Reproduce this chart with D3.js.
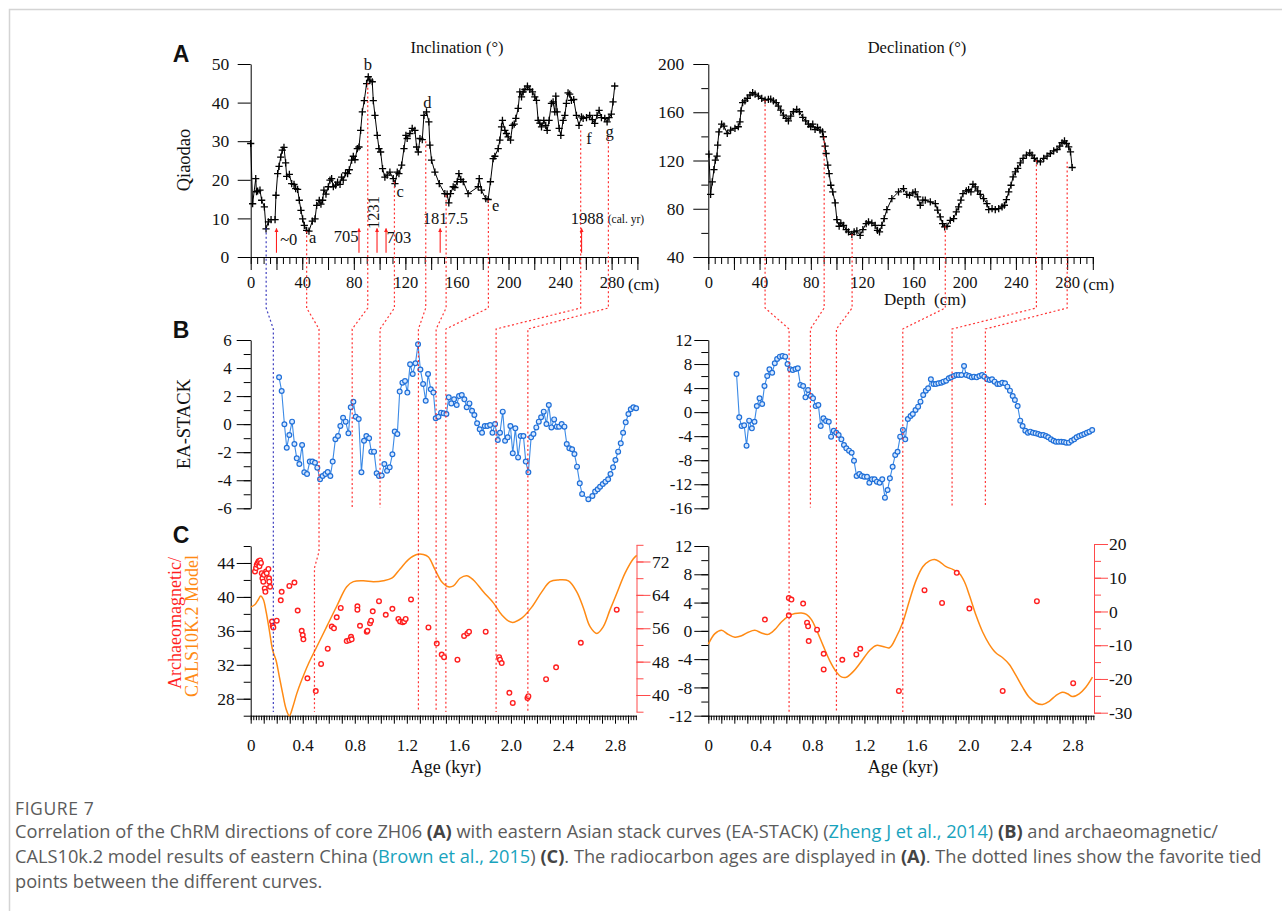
<!DOCTYPE html>
<html><head><meta charset="utf-8">
<script src="https://cdn.jsdelivr.net/npm/d3@7"></script>
<style>body{margin:0;background:#fff}svg{display:block}</style>
</head><body>
<svg id="c" width="1282" height="911"></svg>
<script>
// ---------------- DATA ----------------
const incDepth = [0,1.5,3.9,4.5,5.4,7.2,8.5,10.6,11.9,13.7,15.8,18.9,19.6,20.9,22,23.3,24.5,25.8,27.1,27.9,30,31.8,33.6,34.9,36.4,37.7,39,40.3,41.6,43.4,45.2,47.8,49.9,51.2,53.2,54.5,55.8,56.8,58.4,60.2,61.5,62.8,64.1,65.9,67.4,69.3,70.5,71.8,73.6,75.2,76.5,78.3,79.6,80.9,82.7,84,85.3,86.6,88.1,89.9,91.2,92.5,94.3,95.1,96.4,98.2,99.5,100.8,102.3,104.1,105.9,108,110.6,111.9,113.7,115,117.1,118.9,120.4,121.4,123.5,125.3,127.4,128.7,130,131.3,133.1,134.4,136.4,138.2,139,140.3,142.9,146.3,150.6,152.4,153.7,155,157.1,158.4,160.2,161.5,163,164.9,168.7,176.5,177.3,179,182.4,184.2,186,188.1,189.4,192,193.3,194.6,195.3,197.2,198.4,199.7,201.6,203.1,204.4,205.7,207.5,208.8,210.1,211.4,212.7,214.7,216.5,218.6,220.4,221.7,223,224.3,225.6,227.4,228.9,230,231.5,233.3,234.6,235.9,236.7,237.7,239.3,240.6,242.4,243.7,244.9,246.2,247.5,248.8,250.6,252.7,254.7,256.6,257.9,260.5,263,265.1,266.9,268.7,270.3,272.1,274.7,276.5,278,279.8,281.1,282.4];
const incVal = [29.4,13.8,20.3,16.9,17.1,17.3,14.7,13.0,7.3,9.1,9.7,9.7,16,21.6,23.5,25.9,27.7,28.4,24.4,20.9,21.4,19.0,18.8,17.7,17.5,14.7,12.1,9.9,8.2,6.9,6.7,9.3,9.9,13.4,14.7,13.7,14.7,17.3,16.3,18.2,19.9,20.3,18.2,18.6,19.4,18.8,20.7,19.9,21.8,21.6,22.6,25.1,26.1,25.2,28.1,28.5,32.8,37.6,40.5,44.9,46.7,45.8,45.4,40.5,36.7,31.5,28.1,27.2,22.9,20.7,21.2,22,20.3,19.0,22,21.6,23.8,28.1,31.5,30.7,32,33.3,32.8,28.5,27.2,30.7,30.4,36.7,37.6,35,29,25.1,22,19,16.4,16.3,14,16.4,18.2,18,19.5,21.6,20.1,19.5,16.4,18.2,20.3,17.3,15.1,14.9,19.5,25.5,26.1,28.1,30.3,33.7,35.4,32.8,32,31.1,30.3,34.1,34.4,35.9,38.5,42.8,41.5,42.8,43.4,44.3,43.4,42.8,41.5,40.6,35.4,34.7,33.7,35.4,34.1,32.8,35.4,39.8,40.2,37.6,41.7,37.6,33.3,31.5,35.4,36.7,39.8,42.5,42.2,40.6,40.8,36.7,34.1,36.3,35.9,36.1,36.7,35.6,34.6,36.7,38,36.1,35.9,35,36.1,37,40.2,44.3];

const decDepth = [0.5,1.8,3.1,4.4,5.5,6.8,7.3,8.3,10.4,12.2,14.8,17.4,20.8,23.4,24.7,25.5,26.8,28.6,30.5,32.6,34.6,36.5,39.1,41.7,44.3,46.9,48.7,50.8,52.9,54.7,56.5,58.6,60.7,62.5,64.3,66.4,69,71.1,73.7,76,78.1,79.9,81.5,83.3,85.2,87.2,89.1,89.8,91.1,91.9,93.2,94.3,95.6,97.1,99,100.3,102.1,103.4,105.5,107.6,109.4,112,113.8,115.9,118.5,120.6,123.2,125,127.6,130.2,132,133.6,135.4,137.2,139.3,143.2,148.4,152.3,154.9,157,159.6,161.5,163.3,165.4,167.4,169.3,173.2,177.1,178.9,181,182.8,184.4,186.2,188.8,191.4,193.5,195.3,197.1,198.7,201.3,203.1,204.9,206.5,208.3,210.2,212.2,214.8,217.4,218.8,221.4,223.9,226.6,229.2,231,232.6,234.4,236.2,237.8,239.6,241.4,243.5,245.6,248.2,250.8,252.6,254.4,256.5,259.1,261.7,264.3,266.9,269.5,272.1,274.2,276,277.9,279.4,281.2,282.6,283.9];
const decVal = [125.3,92,102.3,112.5,120.3,123.6,132.7,143.8,150.2,148.5,142.4,145.2,146.6,148,152.1,161.2,167.9,169.5,171.5,174.3,176.2,175.1,173.4,171.5,170.1,170.7,170.9,169.5,167.9,165.1,161.8,157.6,154.9,152.9,156.8,160.4,162.4,160.4,155.7,152.9,150.2,148,150.2,145.7,147.4,145.2,143.8,139.7,131.9,125.8,116.1,109.2,99.5,94,84.8,71,65.5,68.2,66.3,62.7,60.8,58.8,60.8,61.6,58,62.7,67.7,69.1,68.2,66.3,62.1,60.8,66.3,71.8,79.3,88.4,94,96.7,92,91.2,93.1,94,89.8,82.9,87.1,87.1,85.7,84.3,78.8,73.2,67.7,64.9,65.5,70.4,71.8,77.4,81.5,87.1,92.6,94.8,95.9,94,100.3,98.1,94.8,92,88.4,84.3,79.3,80.1,79.3,80.1,81.5,82.9,87.6,94,99.5,106.4,110.6,113.4,118.1,121.7,124.4,126.4,124.4,121.7,119.7,118.9,121.7,123.6,125.8,128,129.1,131.9,134.7,136.3,134.1,131.3,127.2,114.2];

const stackIncAge = [0.218,0.238,0.259,0.277,0.297,0.318,0.336,0.354,0.374,0.395,0.412,0.433,0.454,0.474,0.494,0.512,0.533,0.553,0.574,0.592,0.612,0.63,0.651,0.671,0.689,0.71,0.73,0.751,0.769,0.789,0.807,0.83,0.851,0.871,0.889,0.91,0.927,0.948,0.968,0.986,1.007,1.027,1.048,1.068,1.089,1.107,1.127,1.145,1.166,1.186,1.204,1.225,1.245,1.266,1.286,1.304,1.325,1.345,1.363,1.384,1.404,1.422,1.443,1.463,1.483,1.504,1.522,1.542,1.563,1.583,1.601,1.622,1.642,1.66,1.681,1.701,1.719,1.74,1.76,1.778,1.799,1.819,1.84,1.858,1.878,1.899,1.916,1.937,1.955,1.975,1.996,2.014,2.034,2.055,2.075,2.096,2.114,2.134,2.155,2.173,2.195,2.214,2.232,2.252,2.273,2.291,2.311,2.332,2.352,2.37,2.39,2.411,2.429,2.449,2.47,2.488,2.508,2.529,2.547,2.595,2.626,2.647,2.667,2.685,2.706,2.726,2.747,2.765,2.785,2.803,2.824,2.844,2.862,2.882,2.903,2.921,2.941,2.962];
const stackIncVal = [3.34,2.36,-0.01,-1.68,-0.77,0.18,-1.41,-2.44,-2.84,-1.49,-3.43,-3.55,-2.67,-2.67,-2.75,-3.1,-3.93,-3.7,-3.55,-3.41,-3.7,-2.67,-1.08,-0.84,-0.13,0.46,0.18,-0.65,1.2,1.6,0.53,0.37,-3.43,-1.18,-0.84,-1.0,-1.96,-1.96,-3.5,-3.7,-3.67,-2.84,-3.32,-3.08,-2.15,-0.53,-0.7,2.32,2.96,3.08,2.25,4.27,3.58,4.34,5.7,3.9,2.86,1.67,3.58,2.48,2.25,0.42,0.53,0.82,0.77,0.72,1.91,1.48,1.77,1.37,2.0,2.08,1.77,1.2,1.48,0.96,0.65,0.06,-0.37,-0.61,-0.13,-0.13,-0.06,-0.61,0.01,-1.13,-0.61,0.89,-1.18,-0.94,-0.13,-2.08,-0.3,-2.37,-0.84,-0.84,-2.67,-3.43,-0.94,-0.7,-0.23,0.18,0.49,0.89,0.01,1.37,-0.23,0.34,-0.18,-0.18,0.01,-0.18,-1.41,-1.72,-1.79,-2.13,-3.03,-4.22,-4.98,-5.36,-5.12,-4.81,-4.65,-4.46,-4.27,-4.1,-3.93,-3.55,-3.08,-2.56,-1.96,-1.37,-0.61,0.13,0.72,1.06,1.2,1.13];

const stackDecAge = [0.217,0.238,0.256,0.276,0.294,0.314,0.335,0.355,0.373,0.394,0.414,0.432,0.453,0.47,0.491,0.511,0.529,0.55,0.57,0.591,0.609,0.629,0.649,0.67,0.688,0.708,0.729,0.747,0.767,0.788,0.805,0.826,0.846,0.864,0.885,0.905,0.926,0.944,0.964,0.984,1.002,1.023,1.043,1.061,1.082,1.102,1.12,1.14,1.161,1.179,1.199,1.22,1.238,1.258,1.278,1.296,1.317,1.337,1.358,1.378,1.396,1.417,1.437,1.455,1.475,1.496,1.514,1.534,1.555,1.572,1.593,1.613,1.631,1.652,1.672,1.69,1.711,1.731,1.749,1.769,1.79,1.808,1.828,1.849,1.867,1.887,1.907,1.925,1.946,1.966,1.984,2.005,2.025,2.043,2.063,2.084,2.104,2.122,2.143,2.163,2.181,2.201,2.222,2.24,2.26,2.281,2.299,2.319,2.34,2.357,2.378,2.398,2.416,2.437,2.457,2.475,2.496,2.516,2.536,2.554,2.575,2.595,2.613,2.634,2.654,2.672,2.692,2.713,2.733,2.751,2.772,2.792,2.813,2.831,2.851,2.871,2.89,2.91,2.93,2.951];
const stackDecVal = [6.34,-0.87,-2.31,-2.2,-5.58,-1.42,-2.7,-1.59,1.02,2.29,1.35,4.35,6.01,7.12,6.56,8.12,8.84,9.23,9.34,9.23,8.0,7.12,7.0,7.17,7.29,4.51,4.35,2.46,3.68,2.68,2.29,1.02,1.18,-2.31,-1.03,-1.48,-1.59,-4.08,-3.09,-3.42,-3.81,-4.53,-5.47,-6.03,-6.41,-6.75,-8.08,-10.63,-10.3,-10.63,-10.74,-10.74,-11.74,-11.18,-11.18,-11.57,-11.74,-11.18,-14.23,-12.96,-11.02,-9.08,-7.13,-6.58,-4.08,-2.98,-4.53,-1.14,-0.65,-0.31,0.35,0.91,1.74,2.85,3.57,3.96,5.46,4.68,4.68,4.79,4.9,5.07,5.23,5.62,5.79,6.01,6.18,6.18,6.18,7.67,6.18,6.01,5.79,5.9,5.79,6.01,6.18,5.9,5.46,5.34,5.46,5.07,4.68,4.68,4.9,4.79,4.24,3.57,2.68,2.02,1.02,-1.42,-2.31,-3.09,-3.42,-3.25,-3.42,-3.53,-3.64,-3.81,-3.81,-3.97,-4.2,-4.53,-4.75,-4.92,-4.92,-4.92,-4.97,-5.08,-5.08,-4.75,-4.53,-4.2,-3.97,-3.81,-3.64,-3.42,-3.25,-2.98];

const calsIncAge = [0,0.033,0.059,0.077,0.097,0.118,0.143,0.169,0.195,0.22,0.246,0.272,0.297,0.323,0.354,0.392,0.443,0.507,0.584,0.661,0.738,0.789,0.866,0.943,1.02,1.084,1.148,1.212,1.276,1.327,1.366,1.417,1.468,1.519,1.558,1.609,1.66,1.711,1.788,1.865,1.929,2.006,2.083,2.16,2.237,2.301,2.365,2.442,2.506,2.557,2.608,2.66,2.71,2.762,2.813,2.877,2.941,2.967];
const calsIncVal = [38.8,39.1,39.7,40.1,39.7,38.3,36.1,33.7,32.5,30.6,28.6,26.8,26.0,27,28.6,30.2,32.1,34.1,36.5,38.9,41.2,41.8,41.9,41.8,41.9,42.2,43.3,44.4,45,45,44.7,43.2,41.8,41.2,41.3,42.2,42.5,42.0,40.6,39.3,37.9,37,37.5,38.8,40.6,41.8,42,41.9,40.6,38.7,36.5,35.7,36.5,38.5,40.4,42.8,44.5,44.9];
const archIncAge = [0.033,0.041,0.046,0.054,0.061,0.067,0.072,0.079,0.085,0.09,0.097,0.102,0.108,0.113,0.118,0.123,0.136,0.141,0.143,0.149,0.164,0.169,0.174,0.2,0.231,0.238,0.297,0.336,0.361,0.392,0.4,0.405,0.436,0.5,0.541,0.592,0.623,0.64,0.661,0.692,0.738,0.758,0.771,0.776,0.82,0.82,0.84,0.892,0.897,0.917,0.925,0.938,0.986,1.038,1.089,1.135,1.148,1.168,1.179,1.191,1.232,1.366,1.43,1.468,1.486,1.589,1.64,1.665,1.678,1.806,1.909,1.916,1.929,1.988,2.014,2.127,2.134,2.27,2.347,2.537,2.813];
const archIncVal = [43.0,43.4,43.8,44.0,44.2,43.6,44.3,44.0,42.8,42.2,41.8,42.6,41.0,40.6,43.0,42.8,43.3,42.2,41.8,41.2,37.1,36.6,36.4,37.2,39.6,40.6,41.3,41.7,38.4,36,35.5,35.0,30.4,28.9,32.1,33.9,36.5,36.3,37.6,38.7,34.8,34.9,35.3,35.0,38.9,38.5,36.6,35.9,36.0,36.9,37.2,38.3,39.5,37.9,38.6,37.4,37.1,37,37.1,37.4,39.7,36.4,34.5,33.2,32.9,32.6,35.4,35.7,35.9,35.9,32.9,32.6,32.2,28.7,27.5,28.1,28.3,30.3,31.7,34.6,38.5];

const calsDecAge = [0,0.051,0.102,0.153,0.205,0.256,0.307,0.358,0.409,0.46,0.511,0.562,0.614,0.665,0.716,0.754,0.793,0.831,0.882,0.933,0.984,1.023,1.061,1.112,1.163,1.24,1.291,1.342,1.393,1.445,1.496,1.547,1.598,1.649,1.7,1.739,1.777,1.828,1.879,1.93,1.969,2.007,2.058,2.109,2.16,2.212,2.263,2.314,2.365,2.416,2.467,2.519,2.57,2.621,2.672,2.723,2.762,2.8,2.851,2.902,2.953];
const calsDecVal = [-1.9,-0.4,0.07,-0.5,-0.9,-0.7,-0.2,0.07,-0.3,-0.5,0.17,1.26,2.06,2.44,2.53,2.34,1.59,0.17,-2.06,-4.2,-5.8,-6.5,-6.55,-5.8,-4.66,-2.77,-2.06,-2.2,-2.39,-0.87,1.26,4.33,7.17,9.07,9.9,10.1,9.8,9.07,8.7,8.1,6.94,5.04,2.2,-0.16,-1.9,-3.14,-3.8,-4.75,-6.3,-7.97,-9.4,-10.2,-10.4,-9.96,-9.15,-8.7,-8.9,-9.3,-8.9,-7.97,-6.55];
const archDecAge = [0.435,0.619,0.639,0.619,0.729,0.759,0.767,0.772,0.836,0.887,0.887,1.03,1.138,1.168,1.465,1.662,1.797,1.91,2.007,2.263,2.526,2.805];
const archDecVal = [1.6,4.66,4.43,2.2,3.86,1.16,0.64,-1.44,0.17,-3.24,-5.46,-4.09,-3.33,-2.53,-8.49,5.75,3.95,8.21,3.15,-8.49,4.19,-7.4];

// tie points (favourite tied points)
const tieDepthL = [12, 43.4, 90.8, 111.5, 135.8, 151.6, 184.4, 256, 277.5];
const tieIncStart = [7.5, 6.7, 45, 19.5, 30, 16, 14.7, 32.8, 31];
const tieAgeL = [0.174, 0.525, 0.78, 0.994, 1.289, 1.425, 1.5, 1.886, 2.13];
const tieAgeLC = [0.174, 0.49, null, null, 1.289, 1.425, 1.5, 1.886, 2.13];
const tieDepthR = [44.3, 90.4, 112.2, 184.9, 256, 280];
const tieDecStart = [170, 139.7, 59, 65.5, 120.3, 119];
const tieAgeR = [0.621, 0.785, 0.985, 1.495, 1.874, 2.13];
const tieAgeRC = [0.621, null, 0.985, 1.495, null, null];

// radiocarbon ages (arrows) and labels
const c14Depth = [20, 84, 98, 105, 147, 256.7];
const ageLabels = [
  {t:"~0", d:29.5, v:4.2}, {t:"705", d:74, v:4.9}, {t:"703", d:115, v:4.5},
  {t:"1817.5", d:151, v:9.4}, {t:"1988", d:261, v:9.4}];
const peakLetters = ["a","b","c","d","e","f","g"];
const peakDepth = [48, 91, 116, 137, 190, 262.5, 278.5];
const peakVal = [4.5, 49.5, 16.5, 39.5, 12.9, 30.2, 32];

// ticks
const incTicks = [0,10,20,30,40,50];
const decTicks = [40,80,120,160,200];
const depthLabels = [0,40,80,120,160,200,240,280];
const ageTickLabels = [0,0.4,0.8,1.2,1.6,2.0,2.4,2.8];

// ---------------- LAYOUT ----------------
const svg = d3.select("#c");
const SERIF = "Liberation Serif, Times New Roman, serif";
const SANS = "Liberation Sans, Arial, sans-serif";
const RED = "#ff1f1f", ORANGE = "#ff8a14", BLUE = "#1f6fd8";

svg.append("path").attr("d","M9.5,911V9.5H1282").attr("fill","none").attr("stroke","#d4d4d4").attr("stroke-width",1.5);

const xDepL = d3.scaleLinear([0,300],[250.7,637.4]);
const xDepR = d3.scaleLinear([0,300],[708.3,1092.8]);
const yInc = d3.scaleLinear([0,50],[257,64]);
const yDec = d3.scaleLinear([40,200],[257,64]);
const xAgeL = d3.scaleLinear([0,2.965],[250.7,636.5]);
const xAgeR = d3.scaleLinear([0,2.965],[708.3,1094]);
const yStL = d3.scaleLinear([-6,6],[508.3,340]);
const yStR = d3.scaleLinear([-16,12],[508.3,340]);
const yCL = d3.scaleLinear([26,46],[715.7,546]);
const yCLr = d3.scaleLinear([36,76],[711.7,544.8]);
const yCR = d3.scaleLinear([-12,12],[715.7,546]);
const yCRr = d3.scaleLinear([-30,20],[712.7,544]);

const rng = (a,b,s) => d3.range(Math.round((b-a)/s)+1).map(i => +(a+i*s).toFixed(4));

function axis(o){
  const mk = {left:d3.axisLeft, right:d3.axisRight, bottom:d3.axisBottom}[o.orient];
  const tr = o.orient==="bottom" ? `translate(0,${o.at})` : `translate(${o.at},0)`;
  const color = o.color || "#000";
  if (o.minor){
    const g = svg.append("g").attr("transform",tr);
    g.call(mk(o.scale).tickValues(o.minor).tickSize(o.minLen).tickFormat("").tickSizeOuter(0));
    g.select(".domain").remove();
    g.selectAll("line").attr("stroke",color).attr("stroke-width",1);
  }
  const g = svg.append("g").attr("transform",tr);
  g.call(mk(o.scale).tickValues(o.major).tickSize(o.majLen).tickPadding(o.pad===undefined?5:o.pad).tickSizeOuter(0)
     .tickFormat(o.fmt || (d=>d)));
  g.attr("font-family",SERIF).attr("font-size",o.fs||17);
  g.selectAll("line,path").attr("stroke",color).attr("stroke-width",1);
  g.selectAll("text").attr("fill","#111").style("font-family",SERIF).style("font-size",(o.fs||17)+"px");
  return g;
}

// ---------- Panel A ----------
axis({orient:"left", scale:yInc, at:250.7, major:incTicks, majLen:13, fs:17.5, pad:8.5});
axis({orient:"bottom", scale:xDepL, at:257, major:rng(0,300,20), majLen:13, minor:rng(0,300,5), minLen:7,
      fmt:d => d%40===0 && d<=280 ? d : "", fs:16.5, pad:6});
axis({orient:"left", scale:yDec, at:708.3, major:decTicks, majLen:15, minor:[60,100,140,180], minLen:7, fs:17.5, pad:9});
axis({orient:"bottom", scale:xDepR, at:257, major:rng(0,300,20), majLen:13, minor:rng(0,300,5), minLen:7,
      fmt:d => d%40===0 && d<=280 ? d : "", fs:16.5, pad:6});

function txt(x,y,t,opt={}){
  const e = svg.append("text").attr("x",x).attr("y",y).text(t)
    .attr("font-family",opt.ff||SERIF).attr("font-size",opt.fs||15)
    .attr("text-anchor",opt.anchor||"middle").attr("fill",opt.fill||"#111");
  if (opt.weight) e.attr("font-weight",opt.weight);
  if (opt.rot) e.attr("transform",`rotate(${opt.rot},${x},${y})`);
  if (opt.db) e.attr("dominant-baseline",opt.db);
  return e;
}
txt(457,53,"Inclination (°)",{fs:16.5});
txt(917,53,"Declination (°)",{fs:16.5});
txt(628,290,"(cm)",{anchor:"start",fs:16.5});
txt(1083,290,"(cm)",{anchor:"start",fs:16.5});
txt(925,305,"Depth  (cm)",{fs:17}).style("white-space","pre");
txt(190,160,"Qiaodao",{fs:18.5,rot:-90});
txt(190,424,"EA-STACK",{fs:18.5,rot:-90});
txt(181,62,"A",{ff:SANS,fs:23,weight:"bold"});
txt(181,338,"B",{ff:SANS,fs:23,weight:"bold"});
txt(181,543,"C",{ff:SANS,fs:23,weight:"bold"});

const incPts = incDepth.map((d,i)=>[d,incVal[i]]);
const decPts = decDepth.map((d,i)=>[d,decVal[i]]);
const plus = "M-3.6,0H3.6M0,-3.6V3.6";
function curveA(pts, xs, ys){
  svg.append("path").attr("d", d3.line().x(d=>xs(d[0])).y(d=>ys(d[1]))(pts))
    .attr("fill","none").attr("stroke","#000").attr("stroke-width",1);
  svg.append("g").selectAll("path").data(pts).join("path")
    .attr("d",plus).attr("transform",d=>`translate(${xs(d[0])},${ys(d[1])})`)
    .attr("stroke","#000").attr("stroke-width",1.3).attr("fill","none");
}
curveA(incPts, xDepL, yInc);
curveA(decPts, xDepR, yDec);

// arrows
const defs = svg.append("defs");
defs.append("marker").attr("id","arr").attr("viewBox","0 0 10 10").attr("refX",9).attr("refY",5)
  .attr("markerWidth",4).attr("markerHeight",7).attr("orient","auto").attr("markerUnits","userSpaceOnUse")
  .append("path").attr("d","M0,0L10,5L0,10z").attr("fill",RED);
svg.append("g").selectAll("line").data(c14Depth).join("line")
  .attr("x1",d=>xDepL(d)).attr("x2",d=>xDepL(d)).attr("y1",yInc(1.1)).attr("y2",yInc(7.4))
  .attr("stroke",RED).attr("stroke-width",1.1).attr("marker-end","url(#arr)");
ageLabels.forEach(a => txt(xDepL(a.d), yInc(a.v), a.t, {fs:16.5, db:"middle"}));
txt(xDepL(96.5), yInc(11.5), "1231", {fs:16.5, rot:-90, db:"middle"});
txt(xDepL(277), yInc(9.4), "(cal. yr)", {fs:11.5, db:"middle", anchor:"start"});
peakLetters.forEach((l,i)=> txt(xDepL(peakDepth[i]), yInc(peakVal[i]), l, {fs:16.5, db:"middle"}));

// ---------- Panel B ----------
axis({orient:"left", scale:yStL, at:250.7, major:rng(-6,6,2), majLen:14, minor:rng(-6,6,1), minLen:7, fs:17, pad:5});
axis({orient:"left", scale:yStR, at:708.3, major:rng(-16,12,4), majLen:14, minor:rng(-16,12,2), minLen:7, fs:17, pad:2});
function curveB(ages, vals, xs, ys){
  const pts = ages.map((a,i)=>[a,vals[i]]);
  svg.append("path").attr("d", d3.line().x(d=>xs(d[0])).y(d=>ys(d[1]))(pts))
    .attr("fill","none").attr("stroke","#3b8ae6").attr("stroke-width",1.1);
  svg.append("g").selectAll("circle").data(pts).join("circle")
    .attr("cx",d=>xs(d[0])).attr("cy",d=>ys(d[1])).attr("r",2.4)
    .attr("fill","#d6e8ff").attr("stroke",BLUE).attr("stroke-width",1.2);
}
curveB(stackIncAge, stackIncVal, xAgeL, yStL);
curveB(stackDecAge, stackDecVal, xAgeR, yStR);

// ---------- Panel C ----------
const ageMajor = d3.range(0,30).map(i=>i/10);
const ageMinor = d3.range(0,149).map(i=>+(i*0.02).toFixed(2));
const ageFmt = d => ageTickLabels.some(v=>Math.abs(v-d)<1e-6) ? (d===0?"0":d3.format(".1f")(d)) : "";
axis({orient:"bottom", scale:xAgeL, at:715.7, major:ageMajor, majLen:8, minor:ageMinor, minLen:4.5, fmt:ageFmt, fs:17, pad:15});
axis({orient:"bottom", scale:xAgeR, at:715.7, major:ageMajor, majLen:8, minor:ageMinor, minLen:4.5, fmt:ageFmt, fs:17, pad:15});
axis({orient:"left", scale:yCL, at:250.7, major:rng(28,44,4), majLen:14, minor:rng(26,46,2), minLen:7, fs:17.5, pad:2});
axis({orient:"right", scale:yCLr, at:636.5, major:rng(40,72,8), majLen:14, minor:rng(36,76,4), minLen:7, fs:17.5, pad:1.5, color:"#ff4a4a"});
axis({orient:"left", scale:yCR, at:708.3, major:rng(-12,12,4), majLen:14, minor:rng(-12,12,2), minLen:7, fs:17.5, pad:2});
axis({orient:"right", scale:yCRr, at:1094, major:rng(-30,20,10), majLen:14, minor:rng(-30,20,5), minLen:7, fs:17.5, pad:1, color:"#ff4a4a"});
txt(446,773,"Age (kyr)",{fs:18});
txt(903,773,"Age (kyr)",{fs:18});
txt(181,623,"Archaeomagnetic/",{fs:18,rot:-90,fill:RED});
txt(198,626,"CALS10K.2 Model",{fs:18,rot:-90,fill:ORANGE});

function curveC(ages, vals, aAges, aVals, xs, ys){
  const pts = ages.map((a,i)=>[a,vals[i]]);
  svg.append("path").attr("d", d3.line().curve(d3.curveCatmullRom).x(d=>xs(d[0])).y(d=>ys(d[1]))(pts))
    .attr("fill","none").attr("stroke",ORANGE).attr("stroke-width",1.5);
  const dots = aAges.map((a,i)=>[a,aVals[i]]);
  svg.append("g").selectAll("circle").data(dots).join("circle")
    .attr("cx",d=>xs(d[0])).attr("cy",d=>ys(d[1])).attr("r",2.3)
    .attr("fill","#fff").attr("stroke",RED).attr("stroke-width",1.4);
}
curveC(calsIncAge, calsIncVal, archIncAge, archIncVal, xAgeL, yCL);
curveC(calsDecAge, calsDecVal, archDecAge, archDecVal, xAgeR, yCR);

// ---------- tie lines ----------
const K1 = 308, K2 = 329, BEND = 507.5, CEND = 712, CK1 = 551.5, CK2 = 568;
function tie(xA, yA, xB, xC, color){
  const p = [[xA,yA],[xA,K1],[xB,K2]];
  if (xC === null) p.push([xB,BEND]);
  else if (Math.abs(xC-xB) > 0.5) p.push([xB,CK1],[xC,CK2],[xC,CEND]);
  else p.push([xB,CEND]);
  svg.append("path").attr("d", d3.line()(p)).attr("fill","none").attr("stroke",color)
    .attr("stroke-width",1.2).attr("stroke-dasharray","2,2.4").attr("opacity",0.9);
}
tieDepthL.forEach((d,i)=> tie(xDepL(d), yInc(tieIncStart[i]), xAgeL(tieAgeL[i]),
  tieAgeLC[i]===null ? null : xAgeL(tieAgeLC[i]), i===0 ? "#2a2ab8" : RED));
tieDepthR.forEach((d,i)=> tie(xDepR(d), yDec(tieDecStart[i]), xAgeR(tieAgeR[i]),
  tieAgeRC[i]===null ? null : xAgeR(tieAgeRC[i]), RED));

// ---------- caption ----------
const CAPF = "Open Sans, Noto Sans, sans-serif", GREY = "#5b5b5b", LINK = "#18a3bd";
txt(15,815,"FIGURE 7",{anchor:"start",ff:CAPF,fs:17.5,fill:GREY}).attr("letter-spacing",0.6);
const capLines = [
  [["Correlation of the ChRM directions of core ZH06 ",0],["(A)",1],[" with eastern Asian stack curves (EA-STACK) (",0],["Zheng J et al., 2014",2],[") ",0],["(B)",1],[" and archaeomagnetic/",0]],
  [["CALS10k.2 model results of eastern China (",0],["Brown et al., 2015",2],[") ",0],["(C)",1],[". The radiocarbon ages are displayed in ",0],["(A)",1],[". The dotted lines show the favorite tied",0]],
  [["points between the different curves.",0]]
];
const capY = [838, 863, 888];
const capEls = capLines.map((ln,k)=>{
  const t = svg.append("text").attr("x",15).attr("y",capY[k]).attr("font-family",CAPF).attr("font-size",16).attr("fill",GREY);
  ln.forEach(([s,ty])=>{
    const sp = t.append("tspan").text(s);
    if (ty===1) sp.attr("font-weight","bold").attr("fill","#444");
    if (ty===2) sp.attr("fill",LINK);
  });
  return t;
});
const w2 = capEls[1].node().getComputedTextLength();
const fsCap = 16*1247/w2;
capEls.forEach(t=>t.attr("font-size",fsCap));
</script>
</body></html>
